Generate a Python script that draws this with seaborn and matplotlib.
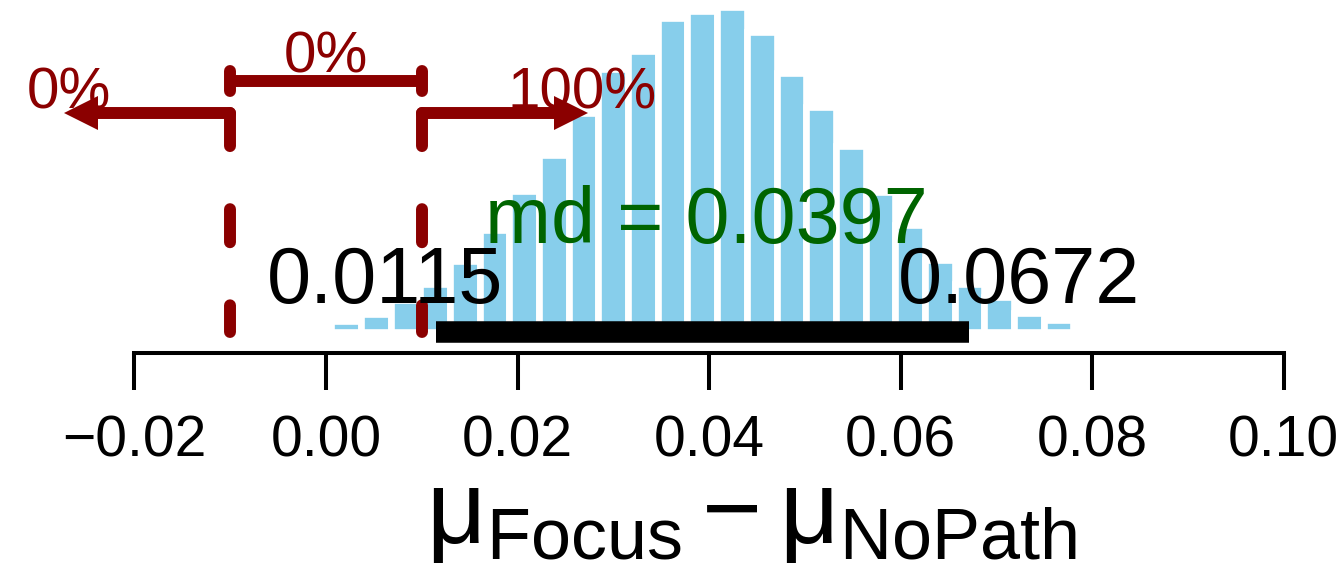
import numpy as np
import matplotlib
matplotlib.use('Agg')
import matplotlib.pyplot as plt
import seaborn as sns

# posterior of mu_Focus - mu_NoPath (histogram)
bin_centers = [0.0021, 0.0052, 0.0083, 0.0114, 0.0145, 0.0176, 0.0207, 0.0238,
               0.0269, 0.0300, 0.0331, 0.0362, 0.0393, 0.0424, 0.0455, 0.0486,
               0.0517, 0.0548, 0.0579, 0.0610, 0.0641, 0.0672, 0.0703, 0.0734,
               0.0765]
density = [0.87, 1.50, 2.76, 4.11, 6.09, 8.84, 12.26, 15.39, 18.98, 22.84,
           24.41, 27.22, 27.85, 28.20, 26.03, 22.52, 19.48, 16.17, 12.17,
           9.30, 6.20, 4.11, 2.98, 1.65, 0.96]
bin_width = 0.0031

hdi = [0.0115, 0.0672]
md = 0.0397
rope = [-0.01, 0.01]
rope_pct = ['0%', '0%', '100%']   # below, inside, above

xticks = [-0.02, 0.00, 0.02, 0.04, 0.06, 0.08, 0.10]
xtick_labels = ['\u22120.02', '0.00', '0.02', '0.04', '0.06', '0.08', '0.10']
xlabel = r'$\mathrm{\mu_{Focus} - \mu_{NoPath}}$'

red = '#8B0000'
green = '#006400'

sns.set_style('white')
plt.rcParams['font.family'] = ['Liberation Sans', 'DejaVu Sans']
plt.rcParams['text.color'] = 'black'
plt.rcParams['axes.labelcolor'] = 'black'
plt.rcParams['mathtext.fontset'] = 'custom'
plt.rcParams['mathtext.rm'] = 'Liberation Sans'
plt.rcParams['mathtext.it'] = 'Liberation Sans:italic'
plt.rcParams['mathtext.bf'] = 'Liberation Sans:bold'

fig = plt.figure(figsize=(13.4, 5.77), dpi=100)
ax = fig.add_axes([0, 0, 1, 1])

edges = list(np.append(np.array(bin_centers) - bin_width / 2, bin_centers[-1] + bin_width / 2))
sns.histplot(x=bin_centers, weights=density, bins=edges, stat='count',
             color='skyblue', edgecolor='white', linewidth=4.8, alpha=1, ax=ax)

# HDI bar
ax.plot(hdi, [0, 0], color='black', lw=15.5, solid_capstyle='butt')

# ROPE lines + arrows
arrow_y = 19.0
for x in rope:
    ax.plot([x, x], [arrow_y, 0], color=red, lw=8.6, dashes=(2.77, 5.28),
            dash_capstyle='round', solid_capstyle='round')
head_centers = [rope[0] - 0.0156, rope[1] + 0.0156]
for x0, xh, mk in [(rope[0], head_centers[0], '<'), (rope[1], head_centers[1], '>')]:
    ax.plot([x0, xh], [arrow_y, arrow_y], color=red, lw=8.6, solid_capstyle='round')
    ax.plot([xh], [arrow_y], marker=mk, markersize=24, color=red, markeredgewidth=0)

# bracket over the ROPE
br_y = 21.78
ax.plot(rope, [br_y, br_y], color=red, lw=8.6, solid_capstyle='butt')
for x in rope:
    ax.plot([x, x], [br_y - 0.9, br_y + 0.9], color=red, lw=8.6, solid_capstyle='round')

ax.text(np.mean(rope), 22.55, rope_pct[1], color=red, fontsize=42, ha='center', va='baseline')
ax.text(head_centers[0] - 0.0012, 19.43, rope_pct[0], color=red, fontsize=42, ha='center', va='baseline')
ax.text(head_centers[1] + 0.0012, 19.43, rope_pct[2], color=red, fontsize=42, ha='center', va='baseline')

# HDI + mode labels
ax.text(hdi[0] - 0.0053, 2.48, '%.4f' % hdi[0], color='black', fontsize=57,
        ha='center', va='baseline')
ax.text(hdi[1] + 0.0052, 2.48, '%.4f' % hdi[1], color='black', fontsize=57,
        ha='center', va='baseline')
ax.text(md, 7.7, 'md = %.4f' % md, color=green, fontsize=57, ha='center', va='baseline')

ax.set_xlim(-326 / 9575, (1340 - 326) / 9575)
ax.set_ylim(-245.5 / 11.5, 331.5 / 11.5)

for s in ['left', 'right', 'top']:
    ax.spines[s].set_visible(False)
ax.spines['bottom'].set_position(('data', -1.87))
ax.spines['bottom'].set_bounds(xticks[0], xticks[-1])
ax.spines['bottom'].set_linewidth(2.9)
ax.spines['bottom'].set_color('black')
ax.set_yticks([])
ax.set_ylabel('')
ax.set_xticks(xticks)
ax.set_xticklabels(xtick_labels)
ax.tick_params(axis='x', direction='out', length=26.6, width=2.9, pad=18,
               labelsize=41, bottom=True, colors='black')

ax.set_xlabel(xlabel, fontsize=74, color='black')
ax.xaxis.set_label_coords(751.5 / 1340, (577 - 543) / 577)
ax.xaxis.label.set_va('baseline')

fig.savefig('out.png', dpi=100)
